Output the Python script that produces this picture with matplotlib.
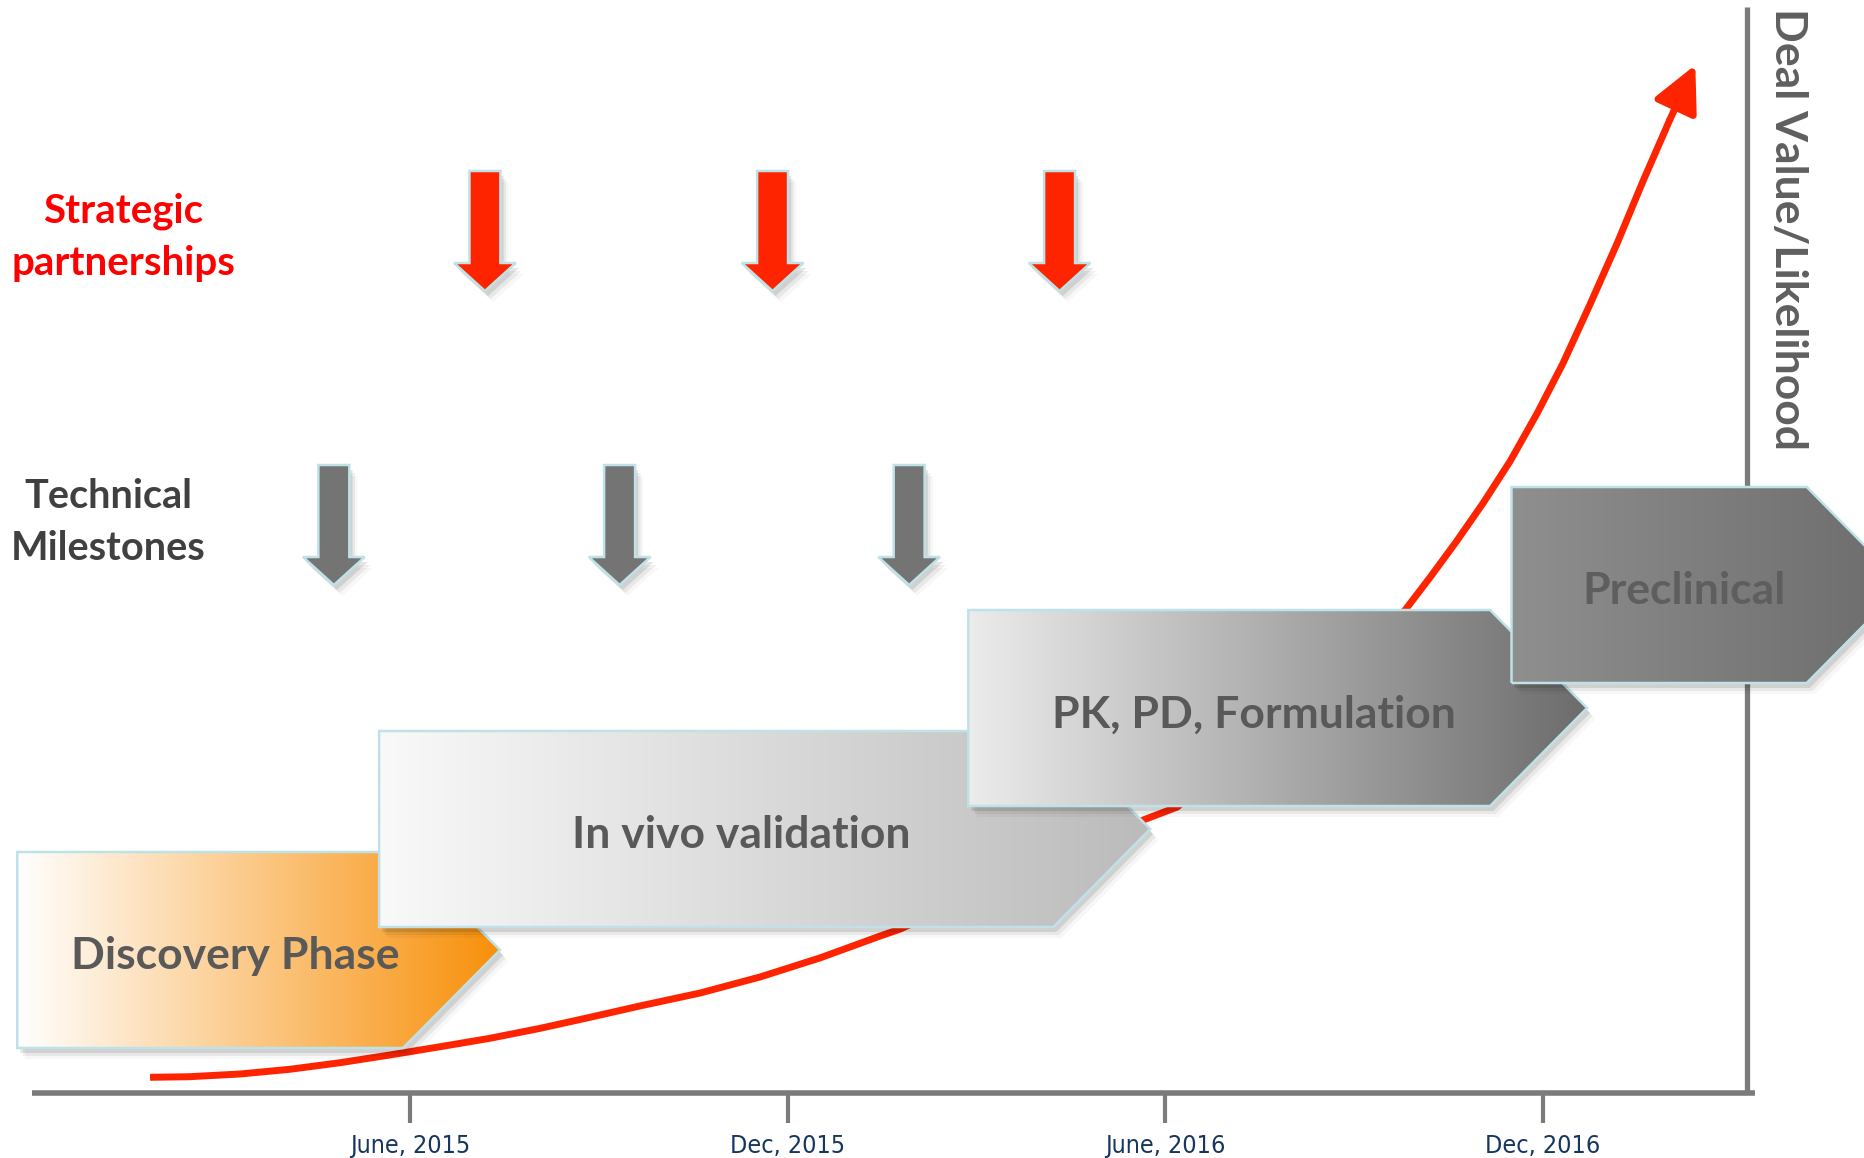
import numpy as np
import matplotlib
matplotlib.use('Agg')
import matplotlib.pyplot as plt
from matplotlib import font_manager
from matplotlib.patches import Polygon, FancyArrowPatch
from matplotlib.colors import LinearSegmentedColormap

plt.rcParams['font.family'] = ['Lato', 'DejaVu Sans']

# time axis in months from Jan 2015 (0 = Jan 2015)
tick_months = [5, 11, 17, 23]
tick_labels = ['June, 2015', 'Dec, 2015', 'June, 2016', 'Dec, 2016']

# development phases: start month, tip month, bottom level
phase_names = ['Discovery Phase', 'In vivo validation', 'PK, PD, Formulation', 'Preclinical']
phase_start = [-1.24, 4.51, 13.87, 22.5]
phase_tip = [6.43, 16.76, 23.7, 28.73]
phase_base = [4.5, 16.6, 28.7, 41.0]
phase_height = 19.6
phase_left_col = ['#FFFFFF', '#F9F9F9', '#ECECEC', '#8F8F8F']
phase_right_col = ['#F8900A', '#BBBBBB', '#6C6C6C', '#6C6C6C']
phase_text_col = ['#595959', '#595959', '#595959', '#5E5E5E']

# event markers
partner_months = [6.19, 10.76, 15.32]
milestone_months = [3.79, 8.33, 12.93]

# deal value / likelihood curve
curve_month = [0.87, 1.50, 2.30, 3.09, 3.89, 4.68, 5.48, 6.27, 7.07, 7.86, 8.65,
               9.61, 10.56, 11.51, 12.47, 12.79, 16.65, 17.19, 20.81, 21.21,
               21.63, 22.05, 22.48, 22.91, 23.32, 23.75, 24.18, 24.59, 25.02]
curve_value = [1.57, 1.63, 1.90, 2.37, 3.03, 3.80, 4.63, 5.47, 6.47, 7.57, 8.70,
               10.0, 11.6, 13.5, 15.7, 16.4, 27.3, 28.6, 48.3, 51.6,
               55.2, 59.0, 63.2, 68.0, 73.0, 78.9, 85.0, 91.2, 97.4]
curve_tip = (25.42, 102.8)

outline = '#BFE2E8'
axis_col = '#7B7B7B'
red = '#FF2400'

# narrow face for the date labels if one is around
narrow = [f.fname for f in font_manager.fontManager.ttflist
          if ('Narrow' in f.fname or 'Condensed' in f.fname)
          and 'Bold' not in f.fname and 'Oblique' not in f.fname and 'Italic' not in f.fname
          and f.fname.lower().endswith('.ttf')]
if narrow:
    tick_font = font_manager.FontProperties(fname=sorted(narrow)[0], size=18)
else:
    tick_font = font_manager.FontProperties(family='DejaVu Sans', size=16)

fig = plt.figure(figsize=(18.64, 11.58), dpi=100)
ax = fig.add_axes([0, 0, 1, 1])
ax.set_axis_off()

chev = 1.54      # depth of the arrow point, months
shaft_w = 0.246  # half width of marker shaft, months
head_w = 0.49    # half width of marker head, months
head_l = 2.8     # head length, value units


def shadow(verts, z):
    for dx, dy, a in [(0.05, -0.5, 0.10), (0.09, -0.8, 0.06), (0.13, -1.1, 0.03)]:
        sh = Polygon(verts + np.array([dx, dy]), closed=True, facecolor='black',
                     edgecolor='none', alpha=a, zorder=z - 0.5)
        ax.add_patch(sh)


def gradient_poly(verts, c0, c1, z):
    shadow(verts, z)
    poly = Polygon(verts, closed=True, facecolor='none', edgecolor=outline,
                   linewidth=1.8, zorder=z + 0.2)
    ax.add_patch(poly)
    cmap = LinearSegmentedColormap.from_list('grad', [c0, c1])
    x0, x1 = verts[:, 0].min(), verts[:, 0].max()
    y0, y1 = verts[:, 1].min(), verts[:, 1].max()
    im = ax.imshow(np.linspace(0, 1, 256).reshape(1, -1), cmap=cmap,
                   extent=[x0, x1, y0, y1], aspect='auto', zorder=z,
                   interpolation='bilinear')
    im.set_clip_path(poly)


# axes lines
ax.plot([-1.0, 26.37], [0, 0], color=axis_col, lw=4, solid_capstyle='butt', zorder=3)
ax.plot([26.24, 26.24], [0, 108.6], color=axis_col, lw=3.8, solid_capstyle='butt', zorder=3)
for m, lab in zip(tick_months, tick_labels):
    ax.plot([m, m], [0, -3.0], color=axis_col, lw=3, solid_capstyle='butt', zorder=3)
    ax.text(m, -5.3, lab, ha='center', va='center', color='#17365D', fontproperties=tick_font)

# curve
ax.plot(curve_month, curve_value, color=red, lw=5, solid_capstyle='butt',
        solid_joinstyle='round', zorder=5)
ax.add_patch(FancyArrowPatch((curve_month[-1], curve_value[-1]), curve_tip,
                             arrowstyle='-|>,head_length=28,head_width=14',
                             mutation_scale=1, color=red, lw=5, shrinkA=0, shrinkB=0,
                             zorder=5))

# phases
for i, name in enumerate(phase_names):
    x0, xt = phase_start[i], phase_tip[i]
    xr = xt - chev
    y0 = phase_base[i]
    y1 = y0 + phase_height
    ym = (y0 + y1) / 2
    verts = np.array([[x0, y0], [xr, y0], [xt, ym], [xr, y1], [x0, y1]])
    z = 10 + 2 * i
    gradient_poly(verts, phase_left_col[i], phase_right_col[i], z)
    ax.text((x0 + xr) / 2 + 0.4, ym - 0.65, name, ha='center', va='center',
            fontsize=32, fontweight='bold', color=phase_text_col[i], zorder=z + 1)


# down arrows
def down_arrow(m, top, color):
    tip = top - 12.0
    hs = tip + head_l
    verts = np.array([[m - shaft_w, top], [m + shaft_w, top], [m + shaft_w, hs],
                      [m + head_w, hs], [m, tip], [m - head_w, hs], [m - shaft_w, hs]])
    shadow(verts, 20)
    ax.add_patch(Polygon(verts, closed=True, facecolor=color, edgecolor=outline,
                         linewidth=1.8, zorder=20))


for m in partner_months:
    down_arrow(m, 92.2, red)
for m in milestone_months:
    down_arrow(m, 62.8, '#747474')

ax.text(0.44, 85.6, 'Strategic\npartnerships', ha='center', va='center', fontsize=29,
        fontweight='bold', color='#FF0000', linespacing=1.5)
ax.text(0.20, 57.05, 'Technical\nMilestones', ha='center', va='center', fontsize=28.5,
        fontweight='bold', color='#404040', linespacing=1.5)
ax.text(26.89, 86.4, 'Deal Value/Likelihood', ha='center', va='center', fontsize=32,
        fontweight='bold', color='#5F5F5F', rotation=-90)

ax.set_xlim(-1.514, 28.10)
ax.set_ylim(-6.5, 109.3)

fig.savefig('out.png', dpi=100, facecolor='white')
